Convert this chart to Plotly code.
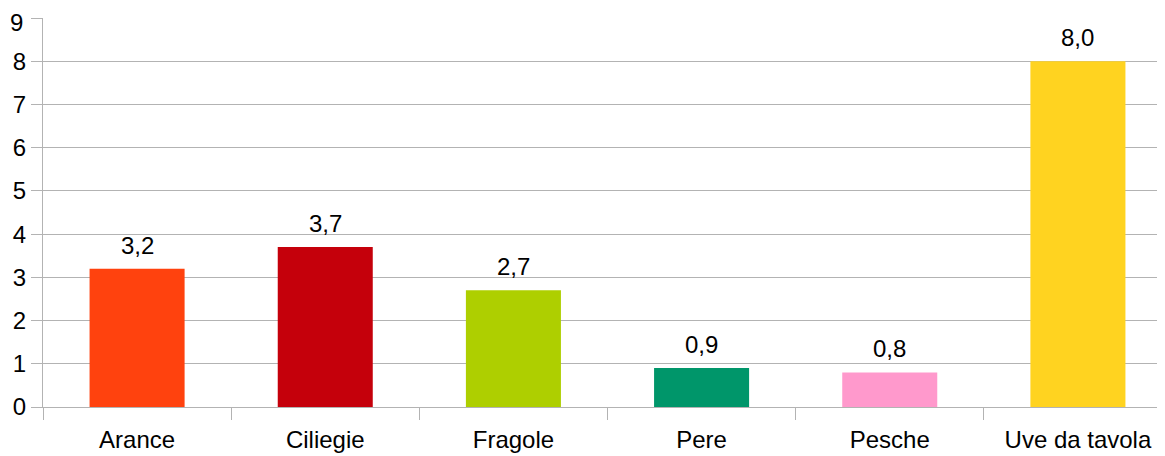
import plotly.graph_objects as go

frutta = ["Arance", "Ciliegie", "Fragole", "Pere", "Pesche", "Uve da tavola"]
valori = [3.2, 3.7, 2.7, 0.9, 0.8, 8.0]
colori = ["#ff420e", "#c5000b", "#aecf00", "#00966a", "#ff99cc", "#ffd320"]
tacche_y = list(range(0, 10))

fig = go.Figure(go.Bar(
    x=frutta,
    y=valori,
    marker_color=colori,
    marker_line_width=0,
    width=0.505,
))

# etichette dei valori sopra le barre, con la virgola decimale
for nome, v in zip(frutta, valori):
    fig.add_annotation(
        x=nome, y=v, text=f"{v:.1f}".replace(".", ","),
        showarrow=False, yanchor="bottom", yshift=8,
        font=dict(size=24, color="#000000"),
    )

# il "9" in cima sta un po' piu' in basso, altrimenti esce dal bordo
fig.add_annotation(
    xref="paper", x=0, y=tacche_y[-1], text=str(tacche_y[-1]),
    showarrow=False, xanchor="right", yanchor="middle",
    xshift=-18, yshift=-4,
    font=dict(size=24, color="#000000"),
)

# la pagina html ha un margine di 8px attorno al grafico
fig.update_layout(
    width=1164,
    height=448,
    margin=dict(l=35, r=0, t=10, b=49),
    plot_bgcolor="white",
    paper_bgcolor="white",
    font=dict(family="Liberation Sans, Arial, sans-serif", size=24, color="#000000"),
    showlegend=False,
)
fig.update_xaxes(
    automargin=False,
    showline=True, linecolor="#b3b3b3", linewidth=1,
    ticks="outside", tickson="boundaries", ticklen=12, tickcolor="#b3b3b3",
    showgrid=False,
    tickfont=dict(size=24),
    ticklabelstandoff=11,
    ticklabeloverflow="allow",
)
fig.update_yaxes(
    automargin=False,
    range=[0, 9],
    tickvals=tacche_y,
    ticktext=[str(t) for t in tacche_y[:-1]] + [""],
    showline=True, linecolor="#b3b3b3", linewidth=1,
    ticks="outside", ticklen=11, tickcolor="#b3b3b3",
    gridcolor="#b3b3b3", gridwidth=1,
    zeroline=False,
    tickfont=dict(size=24),
    ticklabelstandoff=0,
    ticklabeloverflow="allow",
)

fig.write_html("out.html")
